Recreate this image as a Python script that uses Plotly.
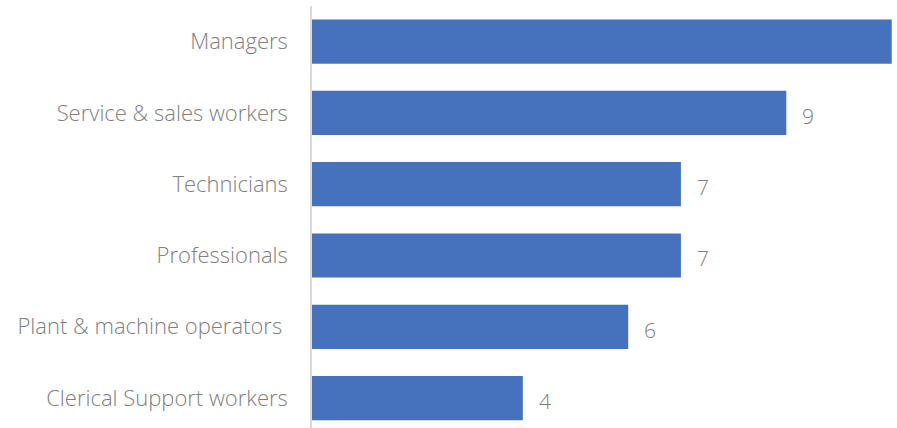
import plotly.graph_objects as go

# Occupation groups, listed top to bottom
categories = [
    "Managers",
    "Service & sales workers",
    "Technicians",
    "Professionals",
    "Plant & machine operators ",
    "Clerical Support workers",
]
values = [11, 9, 7, 7, 6, 4]
# Managers' value label falls off the right edge of the chart
value_labels = ["", "9", "7", "7", "6", "4"]

BAR_COLOR = "#4672BD"
TEXT_COLOR = "#808080"
FONT = "Open Sans"

fig = go.Figure(
    go.Bar(
        x=values,
        y=categories,
        orientation="h",
        marker=dict(color=BAR_COLOR, line=dict(width=0)),
        width=0.62,
        hoverinfo="x+y",
    )
)

for cat, val, lab in zip(categories, values, value_labels):
    if lab:
        fig.add_annotation(
            x=val, y=cat, text=lab, showarrow=False,
            xanchor="left", yanchor="middle", xshift=14, yshift=-3,
            font=dict(family=FONT, size=21, color=TEXT_COLOR, weight=300),
        )

fig.update_layout(
    width=897, height=428,
    margin=dict(l=312, r=0, t=6, b=0),
    paper_bgcolor="white", plot_bgcolor="white",
    showlegend=False,
    font=dict(family=FONT, color=TEXT_COLOR),
)
fig.update_xaxes(
    range=[0, 11.1], visible=False, fixedrange=True,
)
fig.update_yaxes(
    categoryorder="array",
    categoryarray=categories[::-1],
    range=[-0.42, 5.5],
    showline=True, linecolor="#D9D9D9", linewidth=1.5,
    showgrid=False, zeroline=False, ticks="",
    ticklabelstandoff=18,
    tickfont=dict(family=FONT, size=22, color=TEXT_COLOR, weight=300),
    fixedrange=True,
)

fig.write_html("out.html")
